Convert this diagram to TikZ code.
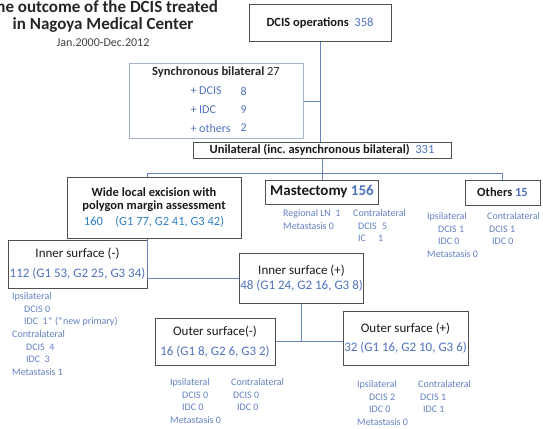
\documentclass[tikz,border=0pt]{standalone}
\usepackage{fontspec}
\setmainfont{Carlito}
\usepackage{xcolor}
\usepackage{tikz}
\definecolor{numblue}{RGB}{79,113,190}
\definecolor{noteblue}{RGB}{98,128,196}
\definecolor{hiblue}{RGB}{46,128,200}
\definecolor{boxgray}{RGB}{80,80,80}
\definecolor{syncgray}{RGB}{165,178,205}
\definecolor{linkblue}{RGB}{105,132,190}
\begin{document}
\begin{tikzpicture}[x=1pt,y=-1pt,
  head/.style={font=\fontsize{17}{20}\selectfont\bfseries,text=black!85},
  box/.style={draw=boxgray,line width=1pt,inner sep=1pt,align=center,text=black!90},
  boldtxt/.style={font=\fontsize{12.5}{15}\selectfont\bfseries},
  plaintxt/.style={font=\fontsize{13}{15}\selectfont},
  synctxt/.style={font=\fontsize{12}{14}\selectfont,text=numblue,anchor=west},
  note/.style={font=\fontsize{10}{12.6}\selectfont,text=noteblue,align=left,inner sep=0pt,anchor=north west},
  link/.style={draw=linkblue,line width=0.8pt}]
\useasboundingbox (0,0) rectangle (543,428);

\node (title1) at (103,12.7) [head,anchor=base] {The outcome of the DCIS treated};
\node (title2) at (103,30) [head,anchor=base] {in Nagoya Medical Center};
\node (period) at (103,47) [anchor=base,font=\fontsize{12}{14}\selectfont,text=black!75] {Jan.2000-Dec.2012};

\node (ops) at (320,23.5) [box,boldtxt,minimum width=142pt,minimum height=37pt] {DCIS operations\ \ \textcolor{numblue}{\mdseries 358}};
\node (sync) at (216,101) [box,draw=syncgray,minimum width=174pt,minimum height=74pt] {};
\node (synctitle) at (216,72) [boldtxt,text=black!85] {Synchronous bilateral \textmd{27}};
\node (syncdcis) at (187,91) [synctxt] {+ DCIS};
\node (syncidc) at (187,109.5) [synctxt] {+ IDC};
\node (syncoth) at (187,128) [synctxt] {+ others};
\node (ndcis) at (237,91) [synctxt] {8};
\node (nidc) at (237,109.5) [synctxt] {9};
\node (noth) at (237,128) [synctxt] {2};
\node (uni) at (322,150) [box,boldtxt,inner sep=0pt,minimum width=258pt,minimum height=16pt] {Unilateral (inc.\ asynchronous bilateral)\ \ \textcolor{numblue}{\mdseries 331}};

\node (wide) at (154,207.5) [box,font=\fontsize{12.5}{13}\selectfont,minimum width=174pt,minimum height=61pt] {\textbf{Wide local excision with}\\\textbf{polygon margin assessment}\\[3pt]\textcolor{hiblue}{160\quad(G1 77, G2 41, G3 42)}};
\node (mast) at (322,192) [box,inner sep=0pt,font=\fontsize{15}{17}\selectfont\bfseries,minimum width=113pt,minimum height=24pt] {Mastectomy \textcolor{numblue}{156}};
\node (oth) at (502.5,192.5) [box,boldtxt,minimum width=75pt,minimum height=25pt] {Others \textcolor{numblue}{15}};

\node (inm) at (77.5,264) [box,plaintxt,minimum width=139pt,minimum height=48pt] {Inner surface (-)\\[5pt]\textcolor{numblue}{112 (G1 53, G2 25, G3 34)}};
\node (inp) at (301.5,278) [box,plaintxt,minimum width=123pt,minimum height=50pt] {Inner surface (+)\\\textcolor{numblue}{48 (G1 24, G2 16, G3 8)}};
\node (outm) at (215,341.5) [box,plaintxt,minimum width=120pt,minimum height=47pt] {Outer surface(-)\\[5pt]\textcolor{numblue}{16 (G1 8, G2 6, G3 2)}};
\node (outp) at (405.5,338) [box,plaintxt,minimum width=125pt,minimum height=54pt] {Outer surface (+)\\[4pt]\textcolor{numblue}{32 (G1 16, G2 10, G3 6)}};

\node (mastnote1) at (283,209.5) [note] {Regional LN\ \ 1\\Metastasis 0};
\node (mastnote2) at (353,209.5) [note] {Contralateral\\\hspace*{5pt}\makebox[24pt][l]{DCIS}5\\\hspace*{5pt}\makebox[20pt][l]{IC}1};
\node (othnote1) at (427,212.5) [note] {Ipsilateral\\\hspace*{11pt}DCIS 1\\\hspace*{11pt}IDC 0\\Metastasis 0};
\node (othnote2) at (487,212.5) [note] {Contralateral\\\hspace*{2pt}DCIS 1\\\hspace*{5pt}IDC 0};
\node (inmnote) at (12,292.5) [note] {Ipsilateral\\\hspace*{12pt}DCIS 0\\\hspace*{12pt}IDC\ \ 1* (*new primary)\\Contralateral\\\hspace*{14pt}DCIS\ \ 4\\\hspace*{14pt}IDC\ \ 3\\Metastasis 1};
\node (outmnote1) at (170,378.5) [note] {Ipsilateral\\\hspace*{12pt}DCIS 0\\\hspace*{12pt}IDC 0\\Metastasis 0};
\node (outmnote2) at (231,378.5) [note] {Contralateral\\\hspace*{2pt}DCIS 0\\\hspace*{6pt}IDC 0};
\node (outpnote1) at (357,380.5) [note] {Ipsilateral\\\hspace*{12pt}DCIS 2\\\hspace*{12pt}IDC 0\\Metastasis 0};
\node (outpnote2) at (418,380.5) [note] {Contralateral\\\hspace*{2pt}DCIS 1\\\hspace*{5pt}IDC 1};

\draw [link] (ops.south) -- (ops.south |- uni.north);
\draw [link] (sync.east) -- (sync.east -| ops.south);
\draw [link] (uni.south) -- ++(0,15) coordinate (split);
\draw [link] (inm.east |- wide.north) |- (split) -| (oth.north);
\draw [link] (split) -- (mast.north);
\draw [link] (inm.east |- wide.south) |- (inp.west);
\draw [link] (inp.south) -- (inp.south |- outm.east);
\draw [link] (outm.east) -- (outm.east -| outp.west);
\end{tikzpicture}
\end{document}
